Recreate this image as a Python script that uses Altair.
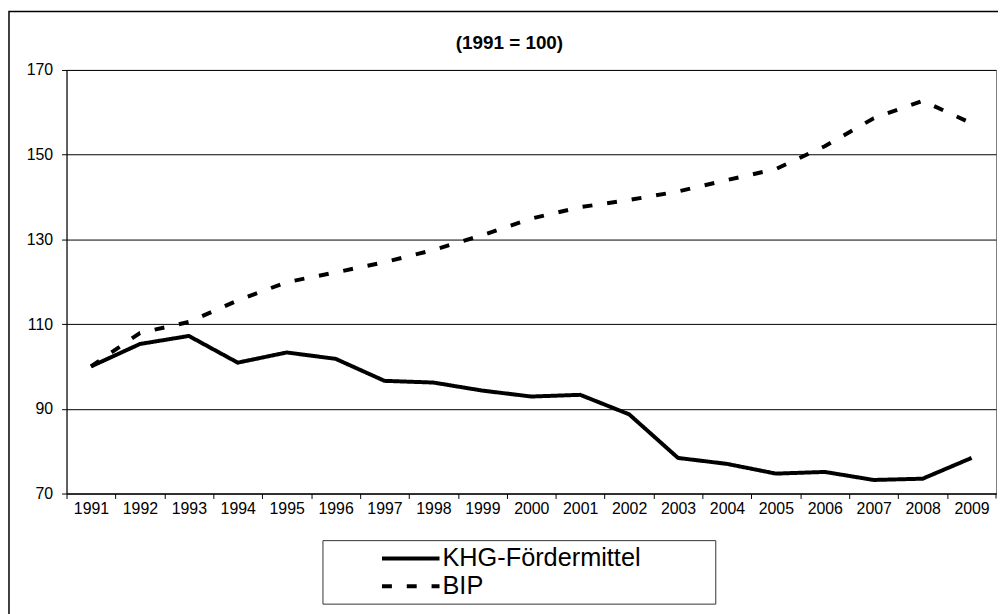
import altair as alt
import pandas as pd

# ---- data ----
years = [str(y) for y in range(1991, 2010)]
khg = [100.0, 105.3, 107.2, 100.9, 103.3, 101.8, 96.6, 96.2, 94.3, 92.9,
       93.3, 88.7, 78.4, 77.0, 74.7, 75.1, 73.2, 73.5, 78.4]
bip = [100.0, 107.9, 110.5, 115.6, 119.9, 122.2, 124.6, 127.5, 131.0, 134.9,
       137.6, 139.3, 141.3, 144.0, 146.6, 152.0, 158.6, 162.7, 157.4]
series_names = ["KHG-Fördermittel", "BIP"]
y_ticks = [70, 90, 110, 130, 150, 170]
title_text = "(1991 = 100)"

df = pd.DataFrame({
    "Jahr": years * 2,
    "Wert": khg + bip,
    "Reihe": [series_names[0]] * len(years) + [series_names[1]] * len(years),
})

W, H = 937, 427
step = W / len(years)
FONT = "Liberation Sans"

# legend symbol: a line inset from the legend's left edge, plus a vanishingly small
# segment far to the right that widens the legend box like in the original
legend_path = "M3.32,0H7.96M29.16,0h0.0001"

lines = alt.Chart(df).mark_line(color="black", strokeWidth=4).encode(
    x=alt.X(
        "Jahr:O", sort=years,
        scale=alt.Scale(type="point", padding=0.5),
        axis=alt.Axis(
            title=None, labelAngle=0, grid=False,
            tickOffset=-step / 2, labelOffset=step / 2,
            tickSize=5, tickColor="black", domainColor="black",
            labelFont=FONT, labelFontSize=16, labelColor="black",
            labelPadding=2, zindex=1,
        ),
    ),
    y=alt.Y(
        "Wert:Q",
        scale=alt.Scale(domain=[70, 170], nice=False, zero=False),
        axis=alt.Axis(
            title=None, values=y_ticks, grid=True, gridColor="black",
            gridWidth=1, tickSize=5, tickColor="black", domainColor="black",
            labelFont=FONT, labelFontSize=16, labelColor="black",
            labelPadding=9, zindex=1,
        ),
    ),
    strokeDash=alt.StrokeDash(
        "Reihe:N", sort=series_names,
        scale=alt.Scale(domain=series_names, range=[[1, 0], [10, 15]]),
        legend=alt.Legend(
            title=None, orient="none", legendX=258, legendY=474,
            symbolType=legend_path, symbolSize=625, symbolStrokeWidth=4,
            symbolStrokeColor="black", symbolFillColor="transparent",
            labelFont=FONT, labelFontSize=25.5, labelColor="black",
            labelOffset=88, labelLimit=600, padding=4, rowPadding=0,
            strokeColor="#333333", fillColor="white",
        ),
    ),
)

one = pd.DataFrame({"t": [title_text]})

border = alt.Chart(one).mark_rect(filled=False, stroke="black", strokeWidth=1.5).encode(
    x=alt.value(-58), x2=alt.value(960), y=alt.value(-59), y2=alt.value(560)
)

title = alt.Chart(one).mark_text(
    font=FONT, fontSize=19, fontWeight="bold", color="black",
    align="center", baseline="alphabetic",
).encode(x=alt.value(446.5), y=alt.value(-21), text="t:N")

end_tick = alt.Chart(one).mark_rule(color="black", strokeWidth=1).encode(
    x=alt.value(W), y=alt.value(H), y2=alt.value(H + 5)
)

chart = alt.layer(border, lines, end_tick, title).properties(
    width=W, height=H,
    autosize=alt.AutoSizeParams(type="none"),
    padding={"left": 59, "top": 60, "right": 2, "bottom": 119},
).configure_view(stroke="#808080", strokeWidth=1)

chart.save("out.html", embed_options={"renderer": "svg", "actions": False})
